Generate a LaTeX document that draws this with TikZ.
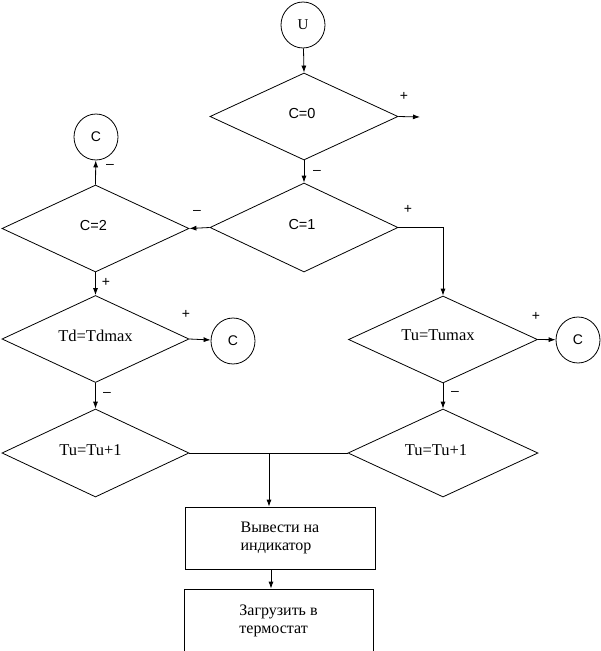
\documentclass[tikz,border=0pt]{standalone}
\usepackage{fontspec}
\setmainfont{Liberation Serif}
\newfontfamily\lsans{Liberation Sans}
\usetikzlibrary{shapes.geometric,arrows.meta,calc}
\newcommand{\dtxt}[3]{\makebox[0pt]{\raisebox{#1}[0pt][0pt]{#3}\hspace{#2}}}
\tikzset{
  dia/.style={draw,diamond,inner sep=0pt,line width=0.8pt,font=\fontsize{16.5}{18}\selectfont},
  circ/.style={draw,ellipse,inner sep=0pt,minimum width=44pt,minimum height=46pt,line width=0.8pt,font=\lsans\fontsize{14}{16}\selectfont},
  boxn/.style={draw,rectangle,inner sep=0pt,line width=0.8pt,align=left,font=\fontsize{16}{18}\selectfont},
  conn/.style={line width=0.8pt},
  arr/.style={line width=0.8pt,-{Latex[length=7pt,width=5pt]}},
  sgn/.style={inner sep=0pt,font=\lsans\fontsize{14}{16}\selectfont},
}
\begin{document}
\begin{tikzpicture}[x=1pt,y=-1pt]
\useasboundingbox (0,0) rectangle (601,651);
\fill[white] (0,0) rectangle (601,651);
% start
\node[circ,font=\fontsize{15}{17}\selectfont] (U) at (303,25) {U};
% decisions
\node[dia,minimum width=188pt,minimum height=87pt,font=\lsans\fontsize{14.5}{16}\selectfont] (d0) at (304,116.5) {\dtxt{-2pt}{4pt}{C=0}};
\node[dia,minimum width=188pt,minimum height=89pt,font=\lsans\fontsize{14.5}{16}\selectfont] (d1) at (304,227.5) {\dtxt{-2pt}{4pt}{C=1}};
\node[dia,minimum width=187pt,minimum height=87pt,font=\lsans\fontsize{14.5}{16}\selectfont] (d2) at (95.5,228.5) {\dtxt{-2pt}{4pt}{C=2}};
\node[dia,minimum width=187pt,minimum height=87pt] (d3) at (95.5,339) {\dtxt{-2pt}{0pt}{Td=Tdmax}};
\node[dia,minimum width=187pt,minimum height=88pt] (d4) at (95.5,453) {\dtxt{-2pt}{10pt}{Tu=Tu+1}};
\node[dia,minimum width=189pt,minimum height=87pt] (d5) at (443,339.5) {\dtxt{-1pt}{10pt}{Tu=Tumax}};
\node[dia,minimum width=190pt,minimum height=88pt] (d6) at (443,453) {\dtxt{-2pt}{14pt}{Tu=Tu+1}};
% connectors (circles)
\node[circ] (C1) at (96,137) {C};
\node[circ] (C2) at (233,341) {C};
\node[circ] (C3) at (578,340) {C};
% boxes
\node[boxn,minimum width=190pt,minimum height=62pt] (b1) at (280,538) {Вывести на\\индикатор};
\node[boxn,minimum width=189pt,minimum height=64pt] (b2) at (278.5,621) {Загрузить в\\термостат};
% free end
\coordinate (e0) at (420,117);
\coordinate (j) at (269,453);
% arrows
\draw[arr] (U) -- (d0.north);
\draw[arr] (d0.east) -- (e0);
\draw[arr] (d0.south) -- (d1.north);
\draw[arr] (d1.west) -- (d2.east);
\draw[arr] (d1.east) -| (d5.north);
\draw[arr] (d2.north) -- (C1);
\draw[arr] (d2.south) -- (d3.north);
\draw[arr] (d3.east) -- (C2);
\draw[arr] (d3.south) -- (d4.north);
\draw[arr] (d5.east) -- (C3);
\draw[arr] (d5.south) -- (d6.north);
\draw[conn] (d4.east) -- (d6.west);
\draw[arr] (j) -- (j |- b1.north);
\draw[arr] ($(b1.south)+(-9,0)$) -- ($(b2.north)+(-7.5,0)$);
% signs
\node[sgn] (s1) at (404,96) {+};
\node[sgn] (s2) at (317,172) {–};
\node[sgn] (s3) at (197,212) {–};
\node[sgn] (s4) at (408,209) {+};
\node[sgn] (s5) at (110,166) {–};
\node[sgn] (s6) at (106,282) {+};
\node[sgn] (s7) at (186,314) {+};
\node[sgn] (s8) at (107,394) {–};
\node[sgn] (s9) at (536,316) {+};
\node[sgn] (s10) at (455,393) {–};
\end{tikzpicture}
\end{document}
